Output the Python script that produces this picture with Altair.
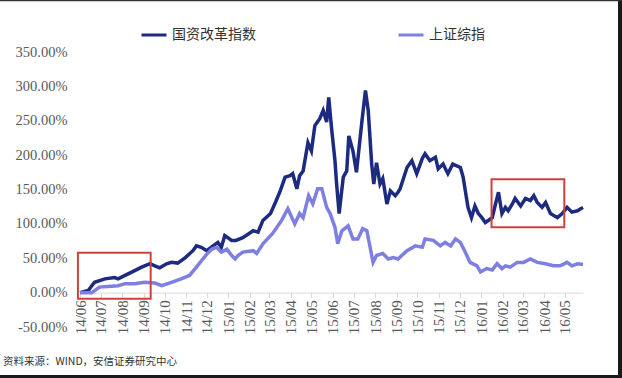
import altair as alt
import pandas as pd

series_names = ["国资改革指数", "上证综指"]
series_colors = ["#1C2A80", "#7D7FE3"]

dark_dates = ["2014-06-01","2014-06-13","2014-06-18","2014-06-22","2014-07-07","2014-07-21","2014-07-26","2014-08-05","2014-08-19","2014-08-29",
              "2014-09-10","2014-09-17","2014-09-24","2014-10-04","2014-10-11","2014-10-20","2014-10-31","2014-11-11","2014-11-16","2014-11-23",
              "2014-12-01","2014-12-10","2014-12-17","2014-12-22","2014-12-27","2015-01-06","2015-01-12","2015-01-22","2015-02-06","2015-02-13",
              "2015-02-20","2015-03-03","2015-03-10","2015-03-17","2015-03-24","2015-03-31","2015-04-04","2015-04-10","2015-04-14","2015-04-19",
              "2015-04-26","2015-05-01","2015-05-06","2015-05-13","2015-05-18","2015-05-23","2015-05-26","2015-05-30","2015-06-04","2015-06-06",
              "2015-06-10","2015-06-16","2015-06-21","2015-06-24","2015-06-30","2015-07-05","2015-07-13","2015-07-18","2015-07-22","2015-07-27",
              "2015-07-30","2015-08-03","2015-08-08","2015-08-12","2015-08-18","2015-08-23","2015-08-30","2015-09-03","2015-09-06","2015-09-16",
              "2015-09-23","2015-09-30","2015-10-08","2015-10-12","2015-10-19","2015-10-27","2015-10-31","2015-11-07","2015-11-14","2015-11-21",
              "2015-12-02","2015-12-06","2015-12-13","2015-12-18","2015-12-23","2015-12-28","2016-01-02","2016-01-07","2016-01-17","2016-01-21",
              "2016-01-26","2016-01-31","2016-02-05","2016-02-09","2016-02-15","2016-02-19","2016-02-27","2016-03-05","2016-03-12","2016-03-17",
              "2016-03-22","2016-03-29","2016-04-03","2016-04-10","2016-04-20","2016-04-27","2016-05-04","2016-05-11","2016-05-19","2016-05-27"]
dark_values = [0,3,10,15,20,22,20,25,32,37,
               42,39,36,42,44,43,51,61,68,66,
               61,68,73,66,83,76,76,80,90,88,
               105,115,131,148,168,170,173,151,170,177,
               218,206,243,253,265,248,284,240,192,163,
               115,168,177,228,206,175,250,294,265,187,
               158,189,158,166,129,148,141,146,151,182,
               192,173,195,202,192,197,180,187,173,187,
               182,168,124,109,126,115,109,102,109,126,
               146,115,124,119,129,137,126,137,134,141,
               131,124,131,115,109,115,124,117,119,124]

light_dates = ["2014-06-01","2014-06-18","2014-06-29","2014-07-11","2014-07-26","2014-08-05","2014-08-19","2014-09-02","2014-09-17","2014-09-27",
               "2014-10-11","2014-10-25","2014-11-06","2014-11-16","2014-11-23","2014-12-01","2014-12-08","2014-12-15","2014-12-22","2014-12-30",
               "2015-01-06","2015-01-11","2015-01-15","2015-01-22","2015-02-06","2015-02-11","2015-02-20","2015-03-06","2015-03-19","2015-03-28",
               "2015-04-07","2015-04-14","2015-04-19","2015-04-27","2015-05-03","2015-05-10","2015-05-16","2015-05-23","2015-05-28","2015-06-04",
               "2015-06-08","2015-06-14","2015-06-23","2015-06-30","2015-07-07","2015-07-14","2015-07-20","2015-07-29","2015-08-03","2015-08-12",
               "2015-08-20","2015-08-27","2015-09-03","2015-09-16","2015-09-28","2015-10-08","2015-10-12","2015-10-24","2015-11-03","2015-11-10",
               "2015-11-18","2015-11-25","2015-12-02","2015-12-09","2015-12-16","2015-12-26","2015-12-31","2016-01-09","2016-01-17","2016-01-24",
               "2016-01-31","2016-02-05","2016-02-12","2016-02-22","2016-03-02","2016-03-12","2016-03-22","2016-04-03","2016-04-14","2016-04-24",
               "2016-05-04","2016-05-11","2016-05-19","2016-05-27"]
light_values = [0,0,8,9,10,13,13,15,14,10,
                15,20,25,37,46,56,63,66,59,63,
                54,49,54,59,61,57,71,86,105,122,
                100,115,109,141,129,151,151,124,115,95,
                71,90,97,78,78,93,90,44,54,57,
                49,51,49,61,68,66,78,76,68,73,
                68,78,73,59,44,39,30,35,33,42,
                35,39,37,44,44,49,44,42,39,39,
                44,39,42,41]

box_start = ["2014-05-29", "2016-01-16"]
box_end = ["2014-09-11", "2016-04-30"]
box_low = [-9, 95]
box_high = [58, 165]

y_ticks = [-50, 0, 50, 100, 150, 200, 250, 300, 350]
source_note = "资料来源：WIND，安信证券研究中心"

lines_df = pd.concat([
    pd.DataFrame({"date": dark_dates, "value": dark_values, "series": series_names[0], "order": 0}),
    pd.DataFrame({"date": light_dates, "value": light_values, "series": series_names[1], "order": 1}),
], ignore_index=True)
boxes_df = pd.DataFrame({"start": box_start, "end": box_end, "low": box_low, "high": box_high})

x_scale = alt.Scale(type="utc", domain=[alt.DateTime(year=2014, month=6, date=1, utc=True),
                                       alt.DateTime(year=2016, month=5, date=27, utc=True)])
y_scale = alt.Scale(domain=[-50, 350], nice=False, zero=False)

serif = "Liberation Serif"
cjk = "Noto Sans CJK SC"

x_axis = alt.Axis(format="%y/%m", labelAngle=270, tickCount={"interval": "month", "step": 1},
                  grid=False, domainColor="#d9d9d9", tickColor="#d9d9d9", tickSize=5,
                  labelFont=serif, labelFontSize=15, labelColor="#595959", labelPadding=2,
                  labelOverlap=False, labelFlush=False, offset=-34.375, title=None)
y_axis = alt.Axis(values=y_ticks, domain=False, ticks=False, grid=False, labelOverlap=False,
                  labelExpr="replace(format(datum.value / 100, '.2%'), '\u2212', '-')",
                  labelFont=serif, labelFontSize=14.5, labelColor="#595959", labelPadding=13, title=None)

lines = alt.Chart(lines_df).mark_line(strokeWidth=3.5).encode(
    x=alt.X("date:T", scale=x_scale, axis=x_axis),
    y=alt.Y("value:Q", scale=y_scale, axis=y_axis),
    color=alt.Color("series:N", sort=series_names,
                    scale=alt.Scale(domain=series_names, range=series_colors),
                    legend=alt.Legend(title=None, orient="none", legendX=60, legendY=-31,
                                      direction="horizontal", symbolType="stroke",
                                      symbolStrokeWidth=3, symbolSize=625,
                                      labelFont=cjk, labelFontSize=14, labelColor="#333333",
                                      columnPadding=136, labelOffset=4)),
    order="order:Q",
)

boxes = alt.Chart(boxes_df).mark_rect(fillOpacity=0, stroke="#D0403A", strokeWidth=2).encode(
    x=alt.X("start:T", scale=x_scale, axis=x_axis),
    x2="end:T",
    y=alt.Y("low:Q", scale=y_scale, axis=y_axis),
    y2="high:Q",
)

note = alt.Chart(pd.DataFrame({"text": [source_note]})).mark_text(
    align="left", baseline="middle", font=cjk, fontSize=10.5, color="#333333"
).encode(text="text:N", x=alt.value(-77), y=alt.value(310))

one = pd.DataFrame({"k": [0]})
frame_right = alt.Chart(one).mark_rule(color="#1a1a1a", strokeWidth=4).encode(
    x=alt.value(540), y=alt.value(-52), y2=alt.value(326))
frame_bottom = alt.Chart(one).mark_rule(color="#1a1a1a", strokeWidth=3).encode(
    x=alt.value(-80), x2=alt.value(542), y=alt.value(324.5))
frame_top = alt.Chart(one).mark_rule(color="#333333", strokeWidth=1.5).encode(
    x=alt.value(-80), x2=alt.value(542), y=alt.value(-51.5))

chart = alt.layer(lines, boxes, note, frame_right, frame_bottom, frame_top).properties(
    width=503, height=275,
    autosize=alt.AutoSizeParams(type="none"),
    padding={"left": 80, "top": 52, "right": 39, "bottom": 51},
    background="white",
).configure_view(stroke=None).configure_axis(labelOverlap=False)

chart.save("out.html", embed_options={"renderer": "svg", "actions": False})
